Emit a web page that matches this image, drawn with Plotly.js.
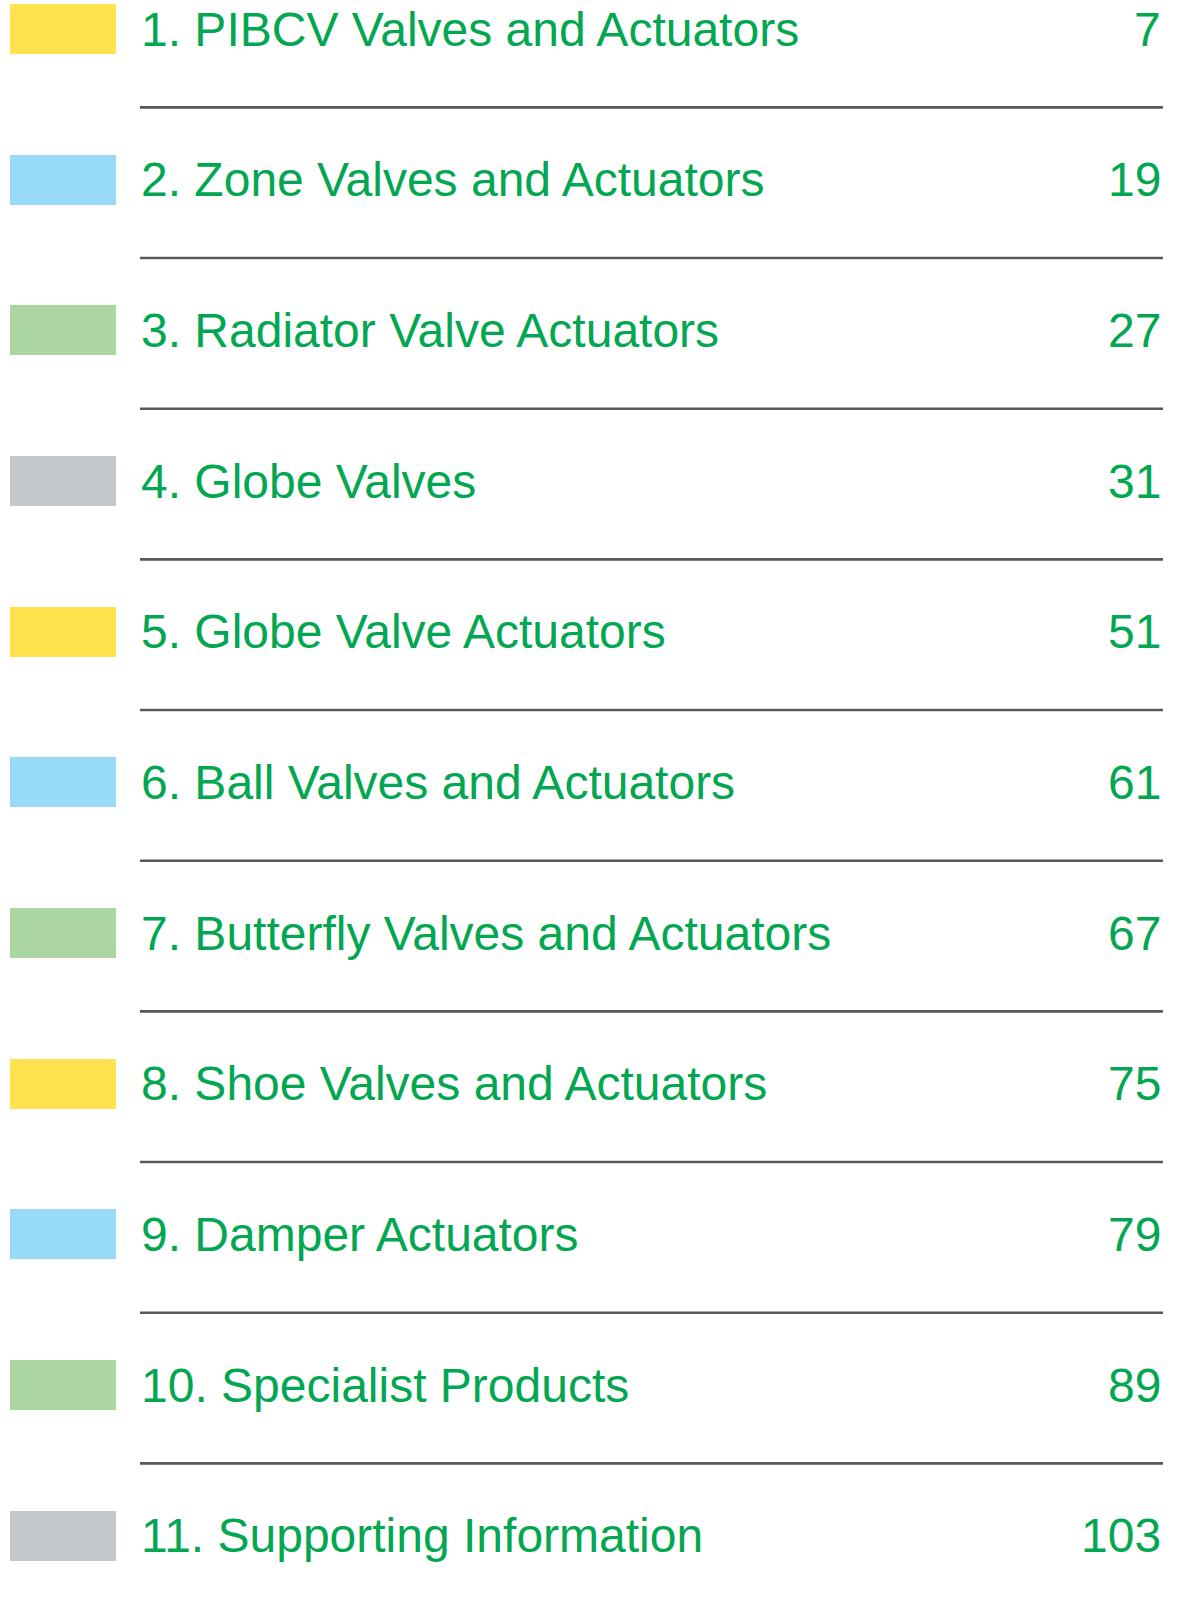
<!DOCTYPE html>
<html>
<head>
<meta charset="utf-8">
<script src="https://cdn.plot.ly/plotly-3.0.1.min.js"></script>
<style>
html,body{margin:0;padding:0;background:#ffffff;overflow:hidden}
#chart{width:1181px;height:1611px}
</style>
</head>
<body>
<div id="chart"></div>
<script>
// ---- data ----
const sections = [
  "1. PIBCV Valves and Actuators",
  "2. Zone Valves and Actuators",
  "3. Radiator Valve Actuators",
  "4. Globe Valves",
  "5. Globe Valve Actuators",
  "6. Ball Valves and Actuators",
  "7. Butterfly Valves and Actuators",
  "8. Shoe Valves and Actuators",
  "9. Damper Actuators",
  "10. Specialist Products",
  "11. Supporting Information"
];
const pages = [7, 19, 27, 31, 51, 61, 67, 75, 79, 89, 103];
const swatchColors = [
  "#ffe24d", "#97dbf8", "#acd6a1", "#c5c8cb",
  "#ffe24d", "#97dbf8", "#acd6a1",
  "#ffe24d", "#97dbf8", "#acd6a1", "#c5c8cb"
];

// ---- styles ----
const GREEN = "#03a651";
const RULE = "#58595b";
const FONT = "Liberation Sans, Arial, Helvetica, sans-serif";
const FONT_SIZE = 48;
const SWATCH_LEFT = 10, SWATCH_W = 106, SWATCH_H = 0.332;
const TEXT_X = 139, PAGE_X = 1163, RULE_X0 = 140, RULE_X1 = 1163, RULE_OFFSET = 0.52;

const rows = sections.map((_, i) => i);

const swatches = {
  type: "bar",
  orientation: "h",
  y: rows,
  x: rows.map(() => SWATCH_W),
  base: rows.map(() => SWATCH_LEFT),
  width: SWATCH_H,
  marker: { color: swatchColors, line: { width: 0 } },
  hoverinfo: "skip",
  showlegend: false
};

const annotations = [];
sections.forEach((t, i) => {
  annotations.push({
    x: TEXT_X, y: i, xref: "x", yref: "y",
    text: t, showarrow: false, xanchor: "left", yanchor: "middle",
    font: { family: FONT, size: FONT_SIZE, color: GREEN }
  });
  annotations.push({
    x: PAGE_X, y: i, xref: "x", yref: "y",
    text: String(pages[i]), showarrow: false, xanchor: "right", yanchor: "middle",
    font: { family: FONT, size: FONT_SIZE, color: GREEN }
  });
});

const shapes = rows.slice(0, -1).map(i => ({
  type: "line", xref: "x", yref: "y",
  x0: RULE_X0, x1: RULE_X1, y0: i + RULE_OFFSET, y1: i + RULE_OFFSET,
  line: { color: RULE, width: 2.6 }
}));

const layout = {
  width: 1181, height: 1611,
  margin: { l: 0, r: 0, t: 0, b: 0, pad: 0 },
  paper_bgcolor: "#ffffff", plot_bgcolor: "#ffffff",
  xaxis: { range: [0, 1181], visible: false, fixedrange: true },
  yaxis: { range: [10.4997, -0.19248], visible: false, fixedrange: true },
  bargap: 0,
  showlegend: false,
  annotations: annotations,
  shapes: shapes
};

Plotly.newPlot("chart", [swatches], layout, { staticPlot: true, displayModeBar: false });
</script>
</body>
</html>
